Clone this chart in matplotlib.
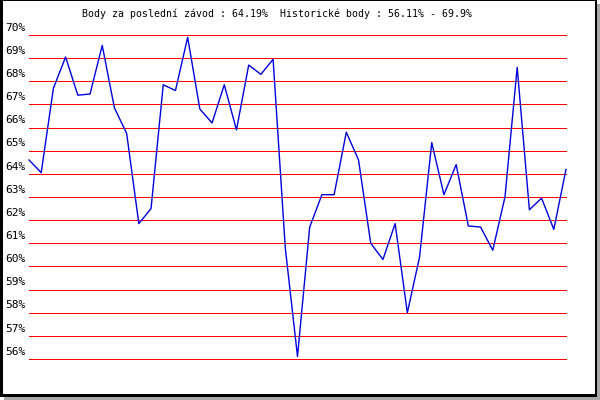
import numpy as np
import matplotlib
matplotlib.use('Agg')
import matplotlib.pyplot as plt
import matplotlib.patches as patches

# race-by-race points (%)
points = [64.6, 64.05, 67.7, 69.05, 67.4, 67.45, 69.55, 66.85, 65.75, 61.85,
          62.5, 67.85, 67.6, 69.9, 66.8, 66.2, 67.85, 65.9, 68.7, 68.3,
          68.95, 60.8, 56.11, 61.7, 63.1, 63.1, 65.8, 64.6, 61.0, 60.3,
          61.85, 58.0, 60.4, 65.35, 63.1, 64.4, 61.75, 61.7, 60.7, 63.0,
          68.6, 62.45, 62.95, 61.6, 64.19]
levels = list(range(56, 71))
title = "Body za poslední závod : 64.19%  Historické body : 56.11% - 69.9%"

W, H = 600, 400


def px_rect(x0, y0, x1, y1, **kw):
    # rectangle in pixel coords, origin top-left
    return patches.Rectangle((x0 / W, 1 - y1 / H), (x1 - x0) / W, (y1 - y0) / H,
                             transform=fig.transFigure, **kw)


fig = plt.figure(figsize=(6, 4), dpi=100)
fig.patch.set_facecolor('white')

# frame with drop shadow
fig.add_artist(px_rect(4, 4, 600, 400, facecolor='#a8a8a8', edgecolor='none', zorder=-3))
fig.add_artist(px_rect(0, 0, 597, 397, facecolor='black', edgecolor='none', zorder=-2))
fig.add_artist(px_rect(3, 1, 595, 394, facecolor='white', edgecolor='none', zorder=-1))

ax = fig.add_axes([29 / W, 41 / H, 537 / W, 324 / H])
ax.set_facecolor('none')
for s in ax.spines.values():
    s.set_visible(False)
ax.set_xticks([])
ax.set_yticks([])

x = np.arange(len(points))
ax.set_xlim(0, len(points) - 1)
ax.set_ylim(56, 70)

for lv in levels:
    ax.axhline(lv, color='#ff0000', linewidth=0.6, antialiased=False,
               zorder=1, clip_on=False)
    ax.text(-0.25, lv + 0.1, f'{lv}%', ha='right', va='bottom',
            family='DejaVu Sans Mono', fontsize=8, color='black', clip_on=False)

ax.plot(x, points, color='#0000dd', linewidth=1.0, zorder=2, clip_on=False)

fig.text(277 / W, 1 - 14 / H, title, ha='center', va='center',
         family='DejaVu Sans Mono', fontsize=7.1, color='black')

fig.savefig('out.png', dpi=100, facecolor='white')
plt.close(fig)
